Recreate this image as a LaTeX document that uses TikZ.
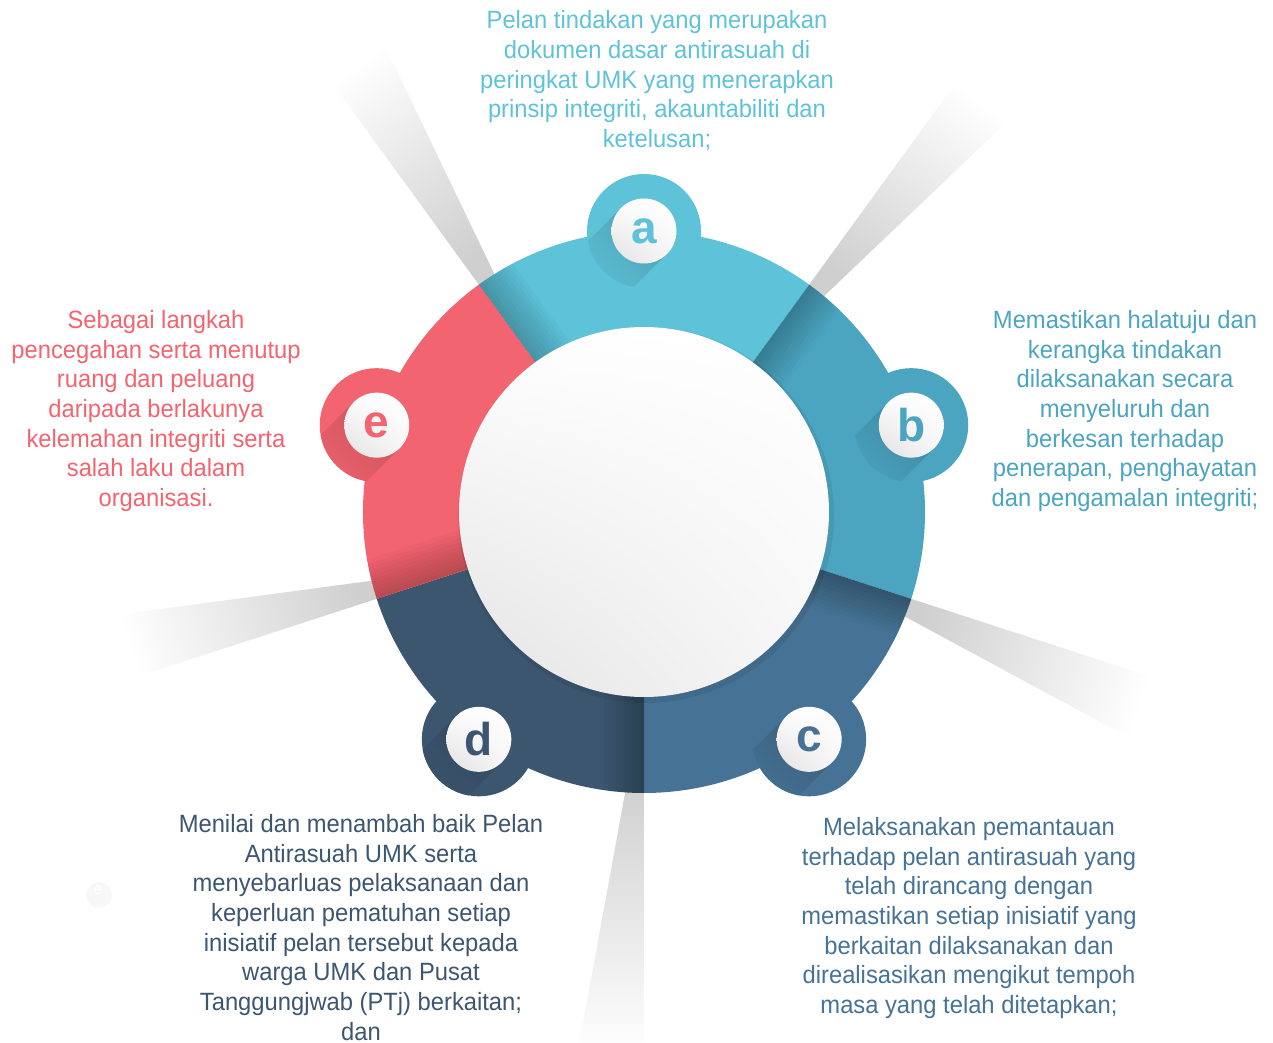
\documentclass[tikz,border=0pt]{standalone}
\usepackage{fontspec}
\setmainfont{Liberation Sans}[FakeStretch=0.95]
\newfontfamily\badgefont{Liberation Sans}
\usetikzlibrary{positioning,shadings}
\definecolor{sega}{HTML}{5EC2D9}
\definecolor{segb}{HTML}{4BA5C1}
\definecolor{segc}{HTML}{467395}
\definecolor{segd}{HTML}{3C5670}
\definecolor{sege}{HTML}{F2646F}
\pgfdeclarehorizontalshading{beamfade}{100bp}{color(0bp)=(black!19); color(25bp)=(black!19); color(72bp)=(white); color(100bp)=(white)}
\tikzset{
	desc/.style={align=center,inner sep=0pt,anchor=north,font=\fontsize{25}{29.7}\selectfont},
	badge/.style={circle,minimum size=65pt,inner sep=0pt,shade,upper left=white,upper right=white,lower right=black!3,lower left=black!12,font=\badgefont\bfseries\fontsize{46}{46}\selectfont},
	hub/.style={circle,minimum size=370pt,inner sep=0pt,shade,upper left=white,upper right=white,lower right=black!3,lower left=black!11},
	veil/.style={black,opacity=.022}
}
\begin{document}
\begin{tikzpicture}[x=1pt,y=1pt]
	\useasboundingbox (-644,-531) rectangle (629,512);
	% shadow beams behind the ring
	\foreach \ang in {54,126,198,270,342}{
		\begin{scope}[rotate=\ang]
			\shade[shading=beamfade,shading angle=\ang] (265,0) -- (560,0) -- (560,-70) -- (265,-16) -- cycle;
		\end{scope}
	}
	% ring segments and bumps
	\foreach \ang/\col in {90/sega,18/segb,-54/segc,234/segd,162/sege}{
		\fill[\col] (0,0) -- (\ang-36:281) arc[start angle=\ang-36,end angle=\ang+36,radius=281] -- cycle;
		\fill[\col] (\ang:281) circle (57);
	}
	% shade on the clockwise side of each border
	\foreach \ang in {54,126,198,270,342}{
		\begin{scope}[rotate=\ang]
			\clip (0,0) circle (281);
			\foreach \k in {1,...,10}
				\fill[veil] (150,0) rectangle (285,-4*\k);
		\end{scope}
	}
	% long shadow of each badge
	\foreach \ang/\col in {90/sega,18/segb,-54/segc,234/segd,162/sege}{
		\begin{scope}
			\clip (\ang:281) circle (57);
			\begin{scope}[shift={(\ang:281)},rotate=-135]
				\shade[top color=\col!84!black,bottom color=\col,shading angle=-45] (0,-32.5) rectangle (75,32.5);
			\end{scope}
		\end{scope}
	}
	% centre disc
	\fill[black,opacity=.07] (2,-3) circle (188);
	\node[hub] (hub) at (0,0) {};
	% badges
	\node[badge,text=sega] (a) at (90:281) {a};
	\node[badge,text=segb] (b) at (18:281) {b};
	\node[badge,text=segc] (c) at (-54:281) {c};
	\node[badge,text=segd] (d) at (234:281) {d};
	\node[badge,text=sege] (e) at (162:281) {e};
	% descriptions
	\node[desc,text=sega] (txta) at (13,501.5) {Pelan tindakan yang merupakan\\dokumen dasar antirasuah di\\peringkat UMK yang menerapkan\\prinsip integriti, akauntabiliti dan\\ketelusan;};
	\node[desc,text=segb] (txtb) at (481,202) {Memastikan halatuju dan\\kerangka tindakan\\dilaksanakan secara\\menyeluruh dan\\berkesan terhadap\\penerapan, penghayatan\\dan pengamalan integriti;};
	\node[desc,text=segc] (txtc) at (325,-305) {Melaksanakan pemantauan\\terhadap pelan antirasuah yang\\telah dirancang dengan\\memastikan setiap inisiatif yang\\berkaitan dilaksanakan dan\\direalisasikan mengikut tempoh\\masa yang telah ditetapkan;};
	\node[desc,text=segd] (txtd) at (-283,-302) {Menilai dan menambah baik Pelan\\Antirasuah UMK serta\\menyebarluas pelaksanaan dan\\keperluan pematuhan setiap\\inisiatif pelan tersebut kepada\\warga UMK dan Pusat\\Tanggungjwab (PTj) berkaitan;\\dan};
	\node[desc,text=sege] (txte) at (-488,202) {Sebagai langkah\\pencegahan serta menutup\\ruang dan peluang\\daripada berlakunya\\kelemahan integriti serta\\salah laku dalam\\organisasi.};
	% faint stray letter
	\fill[black!3] (-545,-383) circle (13);
	\node[text=white,font=\fontsize{16}{16}\selectfont] (ghost) at (-546,-378) {e};
\end{tikzpicture}
\end{document}
